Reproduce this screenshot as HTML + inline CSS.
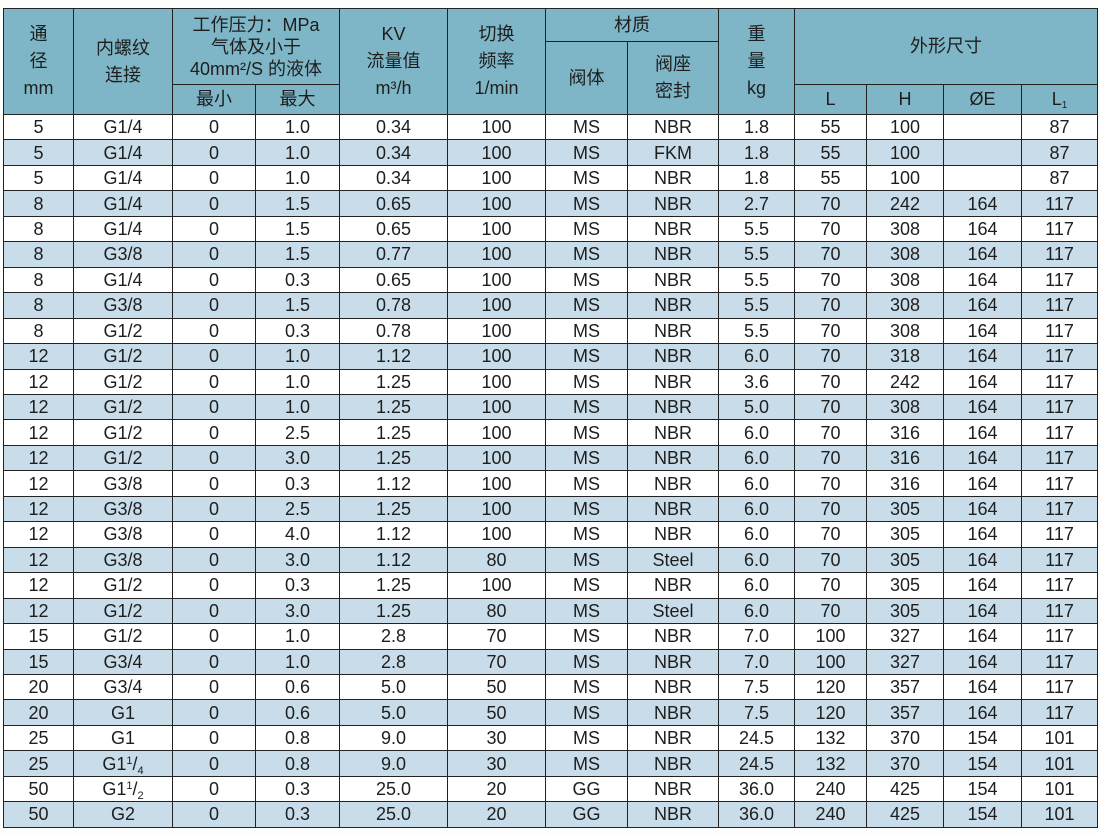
<!DOCTYPE html>
<html><head><meta charset="utf-8">
<style>
html,body{margin:0;padding:0;background:#fdfdfb;width:1100px;height:835px;overflow:hidden}
table{position:absolute;left:3px;top:8px;border-collapse:collapse;table-layout:fixed;width:1094px;
font-family:"Liberation Sans","Noto Sans CJK SC",sans-serif;color:#1e1e1e}
td{border:1.5px solid #222;text-align:center;padding:0;font-size:18px;line-height:18px;overflow:hidden;white-space:nowrap}
tbody tr{height:25.46px}
thead td{background:#7fb6c7;font-size:18px;line-height:27px}
tbody tr:nth-child(even) td{background:#c8dde9}
tbody tr:nth-child(odd) td{background:#fff}
sub{font-size:10px;line-height:0;vertical-align:-3px}
.fr,.fr2{font-size:11px;line-height:0;position:relative}
.fr{top:-6px}.fr2{top:4px}
</style></head><body>
<table>
<colgroup><col style="width:70px"><col style="width:99px"><col style="width:83px"><col style="width:84px"><col style="width:108px"><col style="width:98px"><col style="width:82px"><col style="width:91px"><col style="width:76px"><col style="width:72px"><col style="width:77px"><col style="width:78px"><col style="width:76px"></colgroup>
<thead>
<tr style="height:33px"><td rowspan="3">通<br>径<br>mm</td><td rowspan="3">内螺纹<br>连接</td><td colspan="2" rowspan="2" style="line-height:22px">工作压力：MPa<br>气体及小于<br>40mm²/S 的液体</td><td rowspan="3">KV<br>流量值<br>m³/h</td><td rowspan="3">切换<br>频率<br>1/min</td><td colspan="2">材质</td><td rowspan="3">重<br>量<br>kg</td><td colspan="4" rowspan="2">外形尺寸</td></tr>
<tr style="height:43px"><td rowspan="2">阀体</td><td rowspan="2">阀座<br>密封</td></tr>
<tr style="height:30px"><td>最小</td><td>最大</td><td>L</td><td>H</td><td>ØE</td><td>L<sub>1</sub></td></tr>
</thead>
<tbody>
<tr><td>5</td><td>G1/4</td><td>0</td><td>1.0</td><td>0.34</td><td>100</td><td>MS</td><td>NBR</td><td>1.8</td><td>55</td><td>100</td><td></td><td>87</td></tr>
<tr><td>5</td><td>G1/4</td><td>0</td><td>1.0</td><td>0.34</td><td>100</td><td>MS</td><td>FKM</td><td>1.8</td><td>55</td><td>100</td><td></td><td>87</td></tr>
<tr><td>5</td><td>G1/4</td><td>0</td><td>1.0</td><td>0.34</td><td>100</td><td>MS</td><td>NBR</td><td>1.8</td><td>55</td><td>100</td><td></td><td>87</td></tr>
<tr><td>8</td><td>G1/4</td><td>0</td><td>1.5</td><td>0.65</td><td>100</td><td>MS</td><td>NBR</td><td>2.7</td><td>70</td><td>242</td><td>164</td><td>117</td></tr>
<tr><td>8</td><td>G1/4</td><td>0</td><td>1.5</td><td>0.65</td><td>100</td><td>MS</td><td>NBR</td><td>5.5</td><td>70</td><td>308</td><td>164</td><td>117</td></tr>
<tr><td>8</td><td>G3/8</td><td>0</td><td>1.5</td><td>0.77</td><td>100</td><td>MS</td><td>NBR</td><td>5.5</td><td>70</td><td>308</td><td>164</td><td>117</td></tr>
<tr><td>8</td><td>G1/4</td><td>0</td><td>0.3</td><td>0.65</td><td>100</td><td>MS</td><td>NBR</td><td>5.5</td><td>70</td><td>308</td><td>164</td><td>117</td></tr>
<tr><td>8</td><td>G3/8</td><td>0</td><td>1.5</td><td>0.78</td><td>100</td><td>MS</td><td>NBR</td><td>5.5</td><td>70</td><td>308</td><td>164</td><td>117</td></tr>
<tr><td>8</td><td>G1/2</td><td>0</td><td>0.3</td><td>0.78</td><td>100</td><td>MS</td><td>NBR</td><td>5.5</td><td>70</td><td>308</td><td>164</td><td>117</td></tr>
<tr><td>12</td><td>G1/2</td><td>0</td><td>1.0</td><td>1.12</td><td>100</td><td>MS</td><td>NBR</td><td>6.0</td><td>70</td><td>318</td><td>164</td><td>117</td></tr>
<tr><td>12</td><td>G1/2</td><td>0</td><td>1.0</td><td>1.25</td><td>100</td><td>MS</td><td>NBR</td><td>3.6</td><td>70</td><td>242</td><td>164</td><td>117</td></tr>
<tr><td>12</td><td>G1/2</td><td>0</td><td>1.0</td><td>1.25</td><td>100</td><td>MS</td><td>NBR</td><td>5.0</td><td>70</td><td>308</td><td>164</td><td>117</td></tr>
<tr><td>12</td><td>G1/2</td><td>0</td><td>2.5</td><td>1.25</td><td>100</td><td>MS</td><td>NBR</td><td>6.0</td><td>70</td><td>316</td><td>164</td><td>117</td></tr>
<tr><td>12</td><td>G1/2</td><td>0</td><td>3.0</td><td>1.25</td><td>100</td><td>MS</td><td>NBR</td><td>6.0</td><td>70</td><td>316</td><td>164</td><td>117</td></tr>
<tr><td>12</td><td>G3/8</td><td>0</td><td>0.3</td><td>1.12</td><td>100</td><td>MS</td><td>NBR</td><td>6.0</td><td>70</td><td>316</td><td>164</td><td>117</td></tr>
<tr><td>12</td><td>G3/8</td><td>0</td><td>2.5</td><td>1.25</td><td>100</td><td>MS</td><td>NBR</td><td>6.0</td><td>70</td><td>305</td><td>164</td><td>117</td></tr>
<tr><td>12</td><td>G3/8</td><td>0</td><td>4.0</td><td>1.12</td><td>100</td><td>MS</td><td>NBR</td><td>6.0</td><td>70</td><td>305</td><td>164</td><td>117</td></tr>
<tr><td>12</td><td>G3/8</td><td>0</td><td>3.0</td><td>1.12</td><td>80</td><td>MS</td><td>Steel</td><td>6.0</td><td>70</td><td>305</td><td>164</td><td>117</td></tr>
<tr><td>12</td><td>G1/2</td><td>0</td><td>0.3</td><td>1.25</td><td>100</td><td>MS</td><td>NBR</td><td>6.0</td><td>70</td><td>305</td><td>164</td><td>117</td></tr>
<tr><td>12</td><td>G1/2</td><td>0</td><td>3.0</td><td>1.25</td><td>80</td><td>MS</td><td>Steel</td><td>6.0</td><td>70</td><td>305</td><td>164</td><td>117</td></tr>
<tr><td>15</td><td>G1/2</td><td>0</td><td>1.0</td><td>2.8</td><td>70</td><td>MS</td><td>NBR</td><td>7.0</td><td>100</td><td>327</td><td>164</td><td>117</td></tr>
<tr><td>15</td><td>G3/4</td><td>0</td><td>1.0</td><td>2.8</td><td>70</td><td>MS</td><td>NBR</td><td>7.0</td><td>100</td><td>327</td><td>164</td><td>117</td></tr>
<tr><td>20</td><td>G3/4</td><td>0</td><td>0.6</td><td>5.0</td><td>50</td><td>MS</td><td>NBR</td><td>7.5</td><td>120</td><td>357</td><td>164</td><td>117</td></tr>
<tr><td>20</td><td>G1</td><td>0</td><td>0.6</td><td>5.0</td><td>50</td><td>MS</td><td>NBR</td><td>7.5</td><td>120</td><td>357</td><td>164</td><td>117</td></tr>
<tr><td>25</td><td>G1</td><td>0</td><td>0.8</td><td>9.0</td><td>30</td><td>MS</td><td>NBR</td><td>24.5</td><td>132</td><td>370</td><td>154</td><td>101</td></tr>
<tr><td>25</td><td>G1<span class="fr">1</span>/<span class="fr2">4</span></td><td>0</td><td>0.8</td><td>9.0</td><td>30</td><td>MS</td><td>NBR</td><td>24.5</td><td>132</td><td>370</td><td>154</td><td>101</td></tr>
<tr><td>50</td><td>G1<span class="fr">1</span>/<span class="fr2">2</span></td><td>0</td><td>0.3</td><td>25.0</td><td>20</td><td>GG</td><td>NBR</td><td>36.0</td><td>240</td><td>425</td><td>154</td><td>101</td></tr>
<tr><td>50</td><td>G2</td><td>0</td><td>0.3</td><td>25.0</td><td>20</td><td>GG</td><td>NBR</td><td>36.0</td><td>240</td><td>425</td><td>154</td><td>101</td></tr>
</tbody></table>
</body></html>
